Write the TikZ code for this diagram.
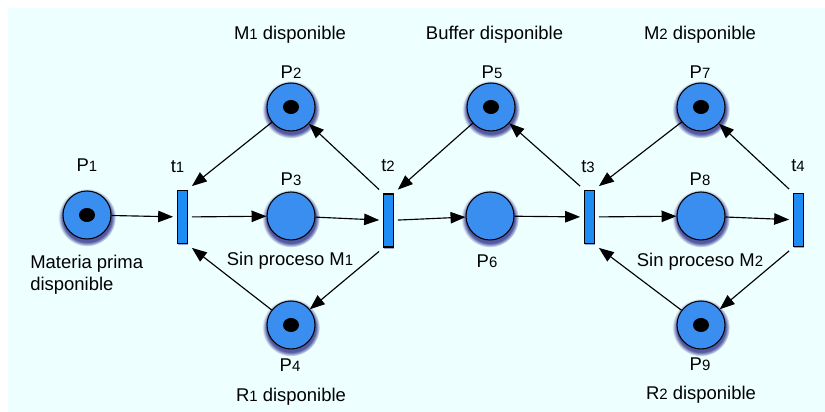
\documentclass[tikz,border=0pt]{standalone}
\usepackage{fontspec}
\setmainfont{Liberation Sans}
\usepackage{xcolor}
\usepackage{tikz}
\usetikzlibrary{shapes,arrows.meta,shadows}
\definecolor{paper}{HTML}{EEFFFF}
\definecolor{placeblue}{HTML}{3A8EEF}
\definecolor{transblue}{HTML}{1E8CF5}
\newcommand{\ix}[1]{{\fontsize{8.5}{10}\selectfont #1}}
\tikzstyle{place} = [circle, draw, line width=0.6pt, fill=placeblue, minimum size=0.96cm, inner sep=0pt,
  circular drop shadow={shadow xshift=0pt, shadow yshift=-1.2pt, shadow scale=1.2, fill=blue!45!black, opacity=0.65}]
\tikzstyle{trans} = [rectangle, draw, line width=0.6pt, fill=transblue, minimum width=0.2cm, minimum height=1.06cm,
  inner sep=0pt, outer sep=2.5pt,
  drop shadow={shadow xshift=0pt, shadow yshift=-1pt, fill=blue!45!black, opacity=0.35}]
\tikzstyle{tag} = [inner sep=0pt, anchor=base]
\tikzstyle{line} = [draw, line width=0.65pt, -{Triangle[length=8.5pt,width=6.5pt]}]

\begin{document}
\begin{tikzpicture}[font=\fontsize{10.5}{12.6}\selectfont]
\useasboundingbox (0,0) rectangle (16.5,-8.24);
\fill [paper] (0.16,-0.16) rectangle (16.5,-8.24);
% places
\node [place] (p1) at (1.74,-4.3) {};
\node [place] (p2) at (5.82,-2.14) {};
\node [place] (p3) at (5.82,-4.32) {};
\node [place] (p4) at (5.82,-6.5) {};
\node [place] (p5) at (9.82,-2.14) {};
\node [place] (p6) at (9.8,-4.32) {};
\node [place] (p7) at (14.02,-2.14) {};
\node [place] (p8) at (14.02,-4.32) {};
\node [place] (p9) at (14.02,-6.5) {};
% tokens
\foreach \p in {p1,p2,p4,p5,p7,p9}
  \fill (\p) ellipse (0.16cm and 0.14cm);
% transitions
\node [trans] (t1) at (3.65,-4.34) {};
\node [trans] (t2) at (7.77,-4.41) {};
\node [trans] (t3) at (11.79,-4.34) {};
\node [trans] (t4) at (15.97,-4.4) {};
% texts
\node [tag] (p1-name) at (1.74,-3.44) {P\ix{1}};
\node [anchor=west, inner sep=0pt, align=left] (p1-text) at (0.6,-5.5) {Materia prima\\disponible};
\node [tag] (t1-name) at (3.55,-3.46) {t\ix{1}};
\node [tag] (p2-name) at (5.82,-1.58) {P\ix{2}};
\node [tag] (p2-text) at (5.8,-0.8) {M\ix{1} disponible};
\node [tag] (p3-name) at (5.82,-3.72) {P\ix{3}};
\node [tag] (p3-text) at (5.8,-5.32) {Sin proceso M\ix{1}};
\node [tag] (p4-name) at (5.8,-7.44) {P\ix{4}};
\node [tag] (p4-text) at (5.82,-8.04) {R\ix{1} disponible};
\node [tag] (t2-name) at (7.76,-3.44) {t\ix{2}};
\node [tag] (p5-name) at (9.84,-1.58) {P\ix{5}};
\node [tag] (p5-text) at (9.89,-0.8) {Buffer disponible};
\node [tag] (p6-name) at (9.74,-5.36) {P\ix{6}};
\node [tag] (t3-name) at (11.76,-3.46) {t\ix{3}};
\node [tag] (p7-name) at (14.0,-1.58) {P\ix{7}};
\node [tag] (p7-text) at (14.0,-0.8) {M\ix{2} disponible};
\node [tag] (p8-name) at (14.0,-3.72) {P\ix{8}};
\node [tag] (p8-text) at (14.0,-5.34) {Sin proceso M\ix{2}};
\node [tag] (t4-name) at (15.96,-3.44) {t\ix{4}};
\node [tag] (p9-name) at (14.0,-7.42) {P\ix{9}};
\node [tag] (p9-text) at (14.02,-8.0) {R\ix{2} disponible};
% arcs
\path [line] (p1) -- (t1);
\path [line] (p2) -- (t1.north east);
\path [line] (p4) -- (t1.south east);
\path [line] (t1) -- (p3);
\path [line] (p3) -- (t2);
\path [line] (t2.north west) -- (p2);
\path [line] (t2.south west) -- (p4);
\path [line] (p5) -- (t2.north east);
\path [line] (t2) -- (p6);
\path [line] (p6) -- (t3);
\path [line] (t3.north west) -- (p5);
\path [line] (p7) -- (t3.north east);
\path [line] (p9) -- (t3.south east);
\path [line] (t3) -- (p8);
\path [line] (p8) -- (t4);
\path [line] (t4.north west) -- (p7);
\path [line] (t4.south west) -- (p9);
\end{tikzpicture}
\end{document}
